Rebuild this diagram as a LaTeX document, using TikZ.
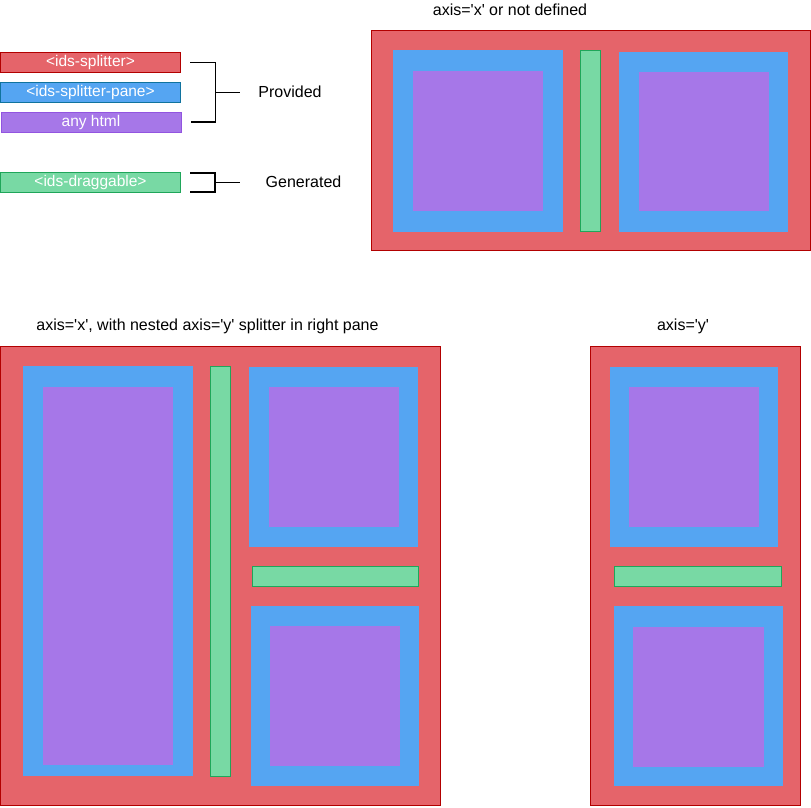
\documentclass[tikz,border=0pt]{standalone}
\usepackage{fontspec}
\setmainfont{Liberation Sans}
\definecolor{splitred}{HTML}{E5646A}
\definecolor{splitredline}{HTML}{B20000}
\definecolor{paneblue}{HTML}{55A5F2}
\definecolor{paneblueline}{HTML}{10739E}
\definecolor{htmlpurple}{HTML}{A677E8}
\definecolor{htmlpurpleline}{HTML}{9254E0}
\definecolor{draggreen}{HTML}{78D9A4}
\definecolor{draggreenline}{HTML}{1FA65A}
\newcommand{\qt}{\textquotesingle}

\begin{document}
\begin{tikzpicture}[x=1pt,y=-1pt,
	splitter/.style={fill=splitred,draw=splitredline,line width=1pt},
	pane/.style={fill=paneblue},
	html/.style={fill=htmlpurple},
	drag/.style={fill=draggreen,draw=draggreenline,line width=1pt},
	legend/.style={rectangle,minimum width=180pt,minimum height=20pt,inner sep=0pt,
		text=white,font=\fontsize{15.5}{18}\selectfont},
	caption/.style={inner sep=0pt,font=\fontsize{16}{19}\selectfont},
	bracket/.style={draw=black,line width=1.7pt}]
	\useasboundingbox (0,0) rectangle (811,807);
	% legend
	\node[legend,splitter] (lsplit) at (90.5,62.5) {<ids-splitter>};
	\node[legend,pane,draw=paneblueline,line width=1pt] (lpane) at (90.5,92.5) {<ids-splitter-pane>};
	\node[legend,html,draw=htmlpurpleline,line width=1pt] (lhtml) at (91,122) {any html};
	\node[legend,drag] (ldrag) at (90.5,182.5) {<ids-draggable>};
	\node[caption] (provided) at (290,92) {Provided};
	\node[caption] (generated) at (303.5,181.5) {Generated};
	\draw[bracket] ([xshift=9pt]lsplit.east) -| ([xshift=34pt]lhtml.east) -- ([xshift=9pt]lhtml.east);
	\draw[bracket] ([xshift=34pt]lpane.east) -- +(25,0);
	\draw[bracket] ([xshift=9pt,yshift=-1pt]ldrag.north east) -| ([xshift=34pt,yshift=1pt]ldrag.south east)
		-- ([xshift=9pt,yshift=1pt]ldrag.south east);
	\draw[bracket] ([xshift=34pt]ldrag.east) -- +(25,0);
	% axis x
	\node[caption] (titlex) at (510,10) {axis=\qt x\qt{} or not defined};
	\filldraw[splitter] (371,30.5) rectangle (810.5,250.5);
	\fill[pane] (393,50) rectangle (563,232);
	\fill[html] (413,71) rectangle (543,211);
	\filldraw[drag] (580.5,50.5) rectangle (600.5,231.5);
	\fill[pane] (619,52) rectangle (788,232);
	\fill[html] (639,72) rectangle (769,211);
	% axis x with nested axis y
	\node[caption] (titlexy) at (207.5,326) {axis=\qt x\qt, with nested axis=\qt y\qt{} splitter in right pane};
	\filldraw[splitter] (0.5,346.5) rectangle (440.5,805.5);
	\fill[pane] (23,366) rectangle (193,776);
	\fill[html] (43,387) rectangle (173,765);
	\filldraw[drag] (210.5,366.5) rectangle (230.5,776);
	\fill[pane] (249,367) rectangle (418,547);
	\fill[html] (269,387) rectangle (399,527);
	\filldraw[drag] (252.5,566.5) rectangle (418.5,586.5);
	\fill[pane] (251,606) rectangle (419,786);
	\fill[html] (270,626) rectangle (400,766);
	% axis y
	\node[caption] (titley) at (683,326) {axis=\qt y\qt};
	\filldraw[splitter] (590.5,346.5) rectangle (800.5,805.5);
	\fill[pane] (610,367) rectangle (778,547);
	\fill[html] (629,387) rectangle (759,527);
	\filldraw[drag] (614.5,566.5) rectangle (781,586.5);
	\fill[pane] (614,606) rectangle (783,786);
	\fill[html] (633,627) rectangle (764,767);
\end{tikzpicture}
\end{document}
